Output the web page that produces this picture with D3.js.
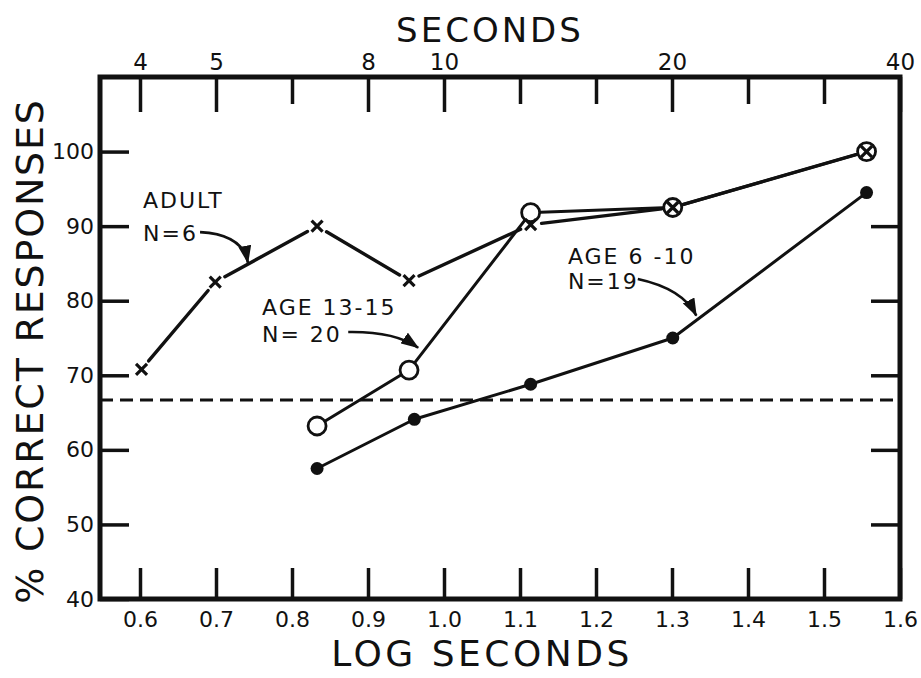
<!DOCTYPE html>
<html>
<head>
	<meta charset="utf-8">
	<title>% Correct Responses vs Log Seconds</title>
	<script src="https://cdn.jsdelivr.net/npm/d3@7/dist/d3.min.js"></script>
	<style type="text/css">
	body { margin: 0; background: #fff; }
	svg { display: block; font-family: "DejaVu Sans", sans-serif; }
	.axis path.domain { display: none; }
	.axis .tick line { stroke: #111; stroke-width: 3.5; }
	.axis .tick text { font-family: "DejaVu Sans", sans-serif; font-size: 22px; fill: #111; }
	.note { font-size: 22px; letter-spacing: 2px; fill: #111; }
	.title { fill: #111; }
	</style>
</head>
<body>
	<svg></svg>
<script>
	// log seconds of each test point, and % correct for each group
	var adultX = [0.602, 0.699, 0.833, 0.954, 1.114, 1.301, 1.556];
	var adultY = [70.8, 82.5, 90, 82.7, 90.2, 92.5, 100];
	var teenX = [0.833, 0.954, 1.114, 1.301, 1.556];
	var teenY = [63.2, 70.7, 91.8, 92.5, 100];
	var childX = [0.833, 0.961, 1.114, 1.301, 1.556];
	var childY = [57.5, 64.1, 68.8, 75, 94.5];
	var chance = 66.7;

	// axis ticks
	var logTicks = [0.6, 0.7, 0.8, 0.9, 1.0, 1.1, 1.2, 1.3, 1.4, 1.5, 1.6];
	var secLabels = ["4", "5", "", "8", "10", "", "", "20", "", "", "40"];
	var pctTicks = [40, 50, 60, 70, 80, 90, 100];
	var rightTicks = [50, 60, 70, 80, 90];

	// group labels and their arrows (in data units)
	var noteLine1 = ["ADULT", "AGE 13-15", "AGE 6 -10"];
	var noteLine2 = ["N=6", "N= 20", "N=19"];
	var noteX = [0.604, 0.7605, 1.163];
	var noteY1 = [92.4, 78.1, 84.9];
	var noteY2 = [88.0, 74.5, 81.6];
	var arrowFrom = [[0.679, 89.2], [0.874, 75.8], [1.255, 82.9]];
	var arrowCtrl = [[0.735, 88.9], [0.935, 75.9], [1.314, 81.6]];
	var arrowTo = [[0.742, 85.1], [0.966, 73.7], [1.332, 78.0]];

	var margin = {top: 77, right: 21, bottom: 79, left: 100},
		width = 921 - margin.left - margin.right,
		height = 678 - margin.top - margin.bottom;

	var x = d3.scaleLinear().domain([0.6 - 40 / 760, 1.6]).range([0, width]);
	var y = d3.scaleLinear().domain([40, 110]).range([height, 0]);

	var svg = d3.select("svg")
		.attr("width", width + margin.left + margin.right)
		.attr("height", height + margin.top + margin.bottom);

	svg.append("defs").append("marker")
		.attr("id", "head")
		.attr("markerUnits", "userSpaceOnUse")
		.attr("markerWidth", 18).attr("markerHeight", 13)
		.attr("refX", 17).attr("refY", 6.5)
		.attr("orient", "auto")
		.append("path")
		.attr("d", "M0,0L18,6.5L0,13Z")
		.attr("fill", "#111");

	var chart = svg.append("g")
		.attr("transform", "translate(" + margin.left + "," + margin.top + ")");

	// chance level
	chart.append("line")
		.attr("x1", 0).attr("x2", width)
		.attr("y1", y(chance)).attr("y2", y(chance))
		.attr("stroke", "#111").attr("stroke-width", 3)
		.attr("stroke-dasharray", "13,7");

	// draw a series as separate segments, cut back near hollow markers
	function segments(xs, ys, gap) {
		var segs = [];
		for (var i = 0; i < xs.length - 1; i++) {
			var x1 = x(xs[i]), y1 = y(ys[i]), x2 = x(xs[i + 1]), y2 = y(ys[i + 1]);
			var len = Math.sqrt((x2 - x1) * (x2 - x1) + (y2 - y1) * (y2 - y1));
			var ux = (x2 - x1) / len, uy = (y2 - y1) / len;
			segs.push({x1: x1 + ux * gap, y1: y1 + uy * gap, x2: x2 - ux * gap, y2: y2 - uy * gap});
		}
		return segs;
	}

	function drawLines(segs, w) {
		chart.append("g").selectAll("line")
			.data(segs)
			.enter()
			.append("line")
			.attr("x1", function(d) { return d.x1; })
			.attr("y1", function(d) { return d.y1; })
			.attr("x2", function(d) { return d.x2; })
			.attr("y2", function(d) { return d.y2; })
			.attr("stroke", "#111")
			.attr("stroke-width", w)
			.attr("stroke-linecap", "round");
	}

	drawLines(segments(adultX, adultY, 11), 3.4);
	drawLines(segments(teenX, teenY, 10), 3);
	drawLines(segments(childX, childY, 0), 3);

	// age 6-10: filled dots
	chart.append("g").selectAll("circle")
		.data(d3.range(childX.length))
		.enter()
		.append("circle")
		.attr("cx", function(i) { return x(childX[i]); })
		.attr("cy", function(i) { return y(childY[i]); })
		.attr("r", 6.5)
		.attr("fill", "#111");

	// age 13-15: open circles
	chart.append("g").selectAll("circle")
		.data(d3.range(teenX.length))
		.enter()
		.append("circle")
		.attr("cx", function(i) { return x(teenX[i]); })
		.attr("cy", function(i) { return y(teenY[i]); })
		.attr("r", 9)
		.attr("fill", "none")
		.attr("stroke", "#111")
		.attr("stroke-width", 2.8);

	// adult: crosses
	chart.append("g").selectAll("path")
		.data(d3.range(adultX.length))
		.enter()
		.append("path")
		.attr("transform", function(i) { return "translate(" + x(adultX[i]) + "," + y(adultY[i]) + ")"; })
		.attr("d", "M-5.5,-5.5L5.5,5.5M-5.5,5.5L5.5,-5.5")
		.attr("stroke", "#111")
		.attr("stroke-width", 3.2);

	// axes
	chart.append("g")
		.attr("class", "axis")
		.attr("transform", "translate(0," + height + ")")
		.call(d3.axisBottom(x).tickValues(logTicks).tickSize(-31).tickPadding(12).tickFormat(d3.format(".1f")));

	var secAxis = chart.append("g")
		.attr("class", "axis")
		.call(d3.axisTop(x).tickValues(logTicks).tickSize(-35).tickPadding(7)
			.tickFormat(function(d, i) { return secLabels[i]; }));
	secAxis.selectAll(".tick line")
		.attr("y2", function(d, i) { return secLabels[i] ? 35 : 27; });
	secAxis.selectAll(".tick text").style("font-size", "23px");

	chart.append("g")
		.attr("class", "axis")
		.call(d3.axisLeft(y).tickValues(pctTicks).tickSize(-29).tickPadding(6));

	chart.append("g")
		.attr("class", "axis")
		.attr("transform", "translate(" + width + ",0)")
		.call(d3.axisRight(y).tickValues(rightTicks).tickSize(-29).tickFormat(""));

	// frame
	chart.append("rect")
		.attr("width", width).attr("height", height)
		.attr("fill", "none")
		.attr("stroke", "#111")
		.attr("stroke-width", 5);

	// axis titles
	svg.append("text")
		.attr("class", "title")
		.attr("x", 490).attr("y", 42)
		.attr("text-anchor", "middle")
		.style("font-size", "34px").style("letter-spacing", "3px")
		.text("SECONDS");

	svg.append("text")
		.attr("class", "title")
		.attr("x", 482).attr("y", 666)
		.attr("text-anchor", "middle")
		.style("font-size", "36px").style("letter-spacing", "3.5px")
		.text("LOG SECONDS");

	svg.append("text")
		.attr("class", "title")
		.attr("transform", "translate(43," + 351 + ") rotate(-90)")
		.attr("text-anchor", "middle")
		.style("font-size", "38px").style("letter-spacing", "1.8px")
		.text("% CORRECT  RESPONSES");

	// group notes with curved arrows
	var notes = chart.append("g");
	noteLine1.forEach(function(t, i) {
		notes.append("text").attr("class", "note")
			.attr("x", x(noteX[i])).attr("y", y(noteY1[i])).text(t);
		notes.append("text").attr("class", "note")
			.attr("x", x(noteX[i])).attr("y", y(noteY2[i])).text(noteLine2[i]);
		var p = d3.path();
		p.moveTo(x(arrowFrom[i][0]), y(arrowFrom[i][1]));
		p.quadraticCurveTo(x(arrowCtrl[i][0]), y(arrowCtrl[i][1]), x(arrowTo[i][0]), y(arrowTo[i][1]));
		notes.append("path")
			.attr("d", p.toString())
			.attr("fill", "none")
			.attr("stroke", "#111")
			.attr("stroke-width", 2.6)
			.attr("marker-end", "url(#head)");
	});
</script>
</body>
</html>
